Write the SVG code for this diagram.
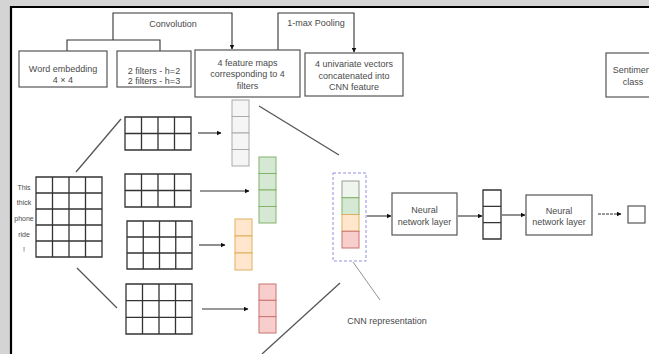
<svg xmlns="http://www.w3.org/2000/svg" width="649" height="354" viewBox="0 0 649 354">
<style>
text{font-family:"Liberation Sans",Arial,sans-serif;font-size:9px;fill:#4a4a4a;text-anchor:middle}
.small{font-size:7px}
.box{fill:#fff;stroke:#555;stroke-width:1.2}
.grid{fill:none;stroke:#333;stroke-width:1.3}
.conn{fill:none;stroke:#333;stroke-width:1.1}
.thin{fill:none;stroke:#777;stroke-width:0.8}
.diag{fill:none;stroke:#555;stroke-width:1.3}
.gray{fill:#f5f5f5;stroke:#aaa;stroke-width:1}
.green{fill:#d5e8d4;stroke:#82b366;stroke-width:1}
.orange{fill:#ffe6cc;stroke:#e0b060;stroke-width:1}
.red{fill:#f8cecc;stroke:#c87470;stroke-width:1}
</style>
<defs>
<marker id="ah" viewBox="0 0 10 10" refX="9" refY="5" markerWidth="5" markerHeight="5" orient="auto" markerUnits="userSpaceOnUse">
<path d="M0,0 L10,5 L0,10 z" fill="#111"/>
</marker>
</defs>
<rect x="0" y="0" width="649" height="354" fill="#d4d4d4"/>
<rect x="11" y="7" width="638" height="347" fill="#fff"/>
<path d="M11,354 V7 H649" fill="none" stroke="#000" stroke-width="2.2"/>

<g id="connectors">
<path class="conn" d="M67,51 V40 H160 V51 M113,40 V13 H232 V49" marker-end="url(#ah)"/>
<path class="conn" d="M278,50 V13 H354 V52" marker-end="url(#ah)"/>
<path class="diag" d="M76,172 L121,119"/>
<path class="diag" d="M77,268 L117,308"/>
<path class="conn" d="M198,133 H221" marker-end="url(#ah)"/>
<path class="conn" d="M200,191 H249" marker-end="url(#ah)"/>
<path class="conn" d="M199,245 H225" marker-end="url(#ah)"/>
<path class="conn" d="M202,309 H248" marker-end="url(#ah)"/>
<path class="diag" d="M259,106 L339,155"/>
<path class="diag" d="M340,283 L262,354"/>
<path class="thin" d="M353,262 L380,300"/>
<path class="conn" d="M367,216 H391" marker-end="url(#ah)"/>
<path class="conn" d="M458,216 H482" marker-end="url(#ah)"/>
<path class="conn" d="M502,215 H525" marker-end="url(#ah)"/>
<path class="conn" d="M598,214 H621" stroke-dasharray="3,1" marker-end="url(#ah)"/>
</g>

<g id="convolution-label"><text x="173" y="27">Convolution</text></g>
<g id="pooling-label"><text x="316" y="26">1-max Pooling</text></g>

<g id="word-embedding">
<rect class="box" x="19" y="51" width="88" height="36"/>
<text x="63" y="72">Word embedding</text>
<text x="63" y="83">4 × 4</text>
</g>
<g id="filters">
<rect class="box" x="117" y="51" width="74" height="36"/>
<text x="154" y="74">2 filters - h=2</text>
<text x="154" y="84">2 filters - h=3</text>
</g>
<g id="feature-maps">
<rect class="box" x="195" y="50" width="105" height="47"/>
<text x="247.5" y="65.5">4 feature maps</text>
<text x="247.5" y="77">corresponding to 4</text>
<text x="247.5" y="88.5">filters</text>
</g>
<g id="univariate">
<rect class="box" x="305" y="53" width="98" height="43"/>
<text x="354" y="67">4 univariate vectors</text>
<text x="354" y="78.5">concatenated into</text>
<text x="354" y="90">CNN feature</text>
</g>
<g id="sentiment">
<rect class="box" x="606" y="53" width="54" height="44"/>
<text x="633" y="73">Sentiment</text>
<text x="633" y="85">class</text>
</g>

<g id="sentence-matrix">
<text class="small" x="24" y="190">This</text>
<text class="small" x="24" y="205">thick</text>
<text class="small" x="24" y="221">phone</text>
<text class="small" x="24" y="236.5">ride</text>
<text class="small" x="24" y="251.5">!</text>
<path class="grid" d="M36,177 H102 V257 H36 Z M52.5,177 V257 M69,177 V257 M85.5,177 V257 M36,193 H102 M36,209 H102 M36,225 H102 M36,241 H102"/>
</g>

<g id="filter1"><path class="grid" d="M125,117 H191 V150 H125 Z M141.5,117 V150 M158,117 V150 M174.5,117 V150 M125,133.5 H191"/></g>
<g id="filter2"><path class="grid" d="M125,174 H191 V207 H125 Z M141.5,174 V207 M158,174 V207 M174.5,174 V207 M125,190.5 H191"/></g>
<g id="filter3"><path class="grid" d="M127,221 H192 V269 H127 Z M143.25,221 V269 M159.5,221 V269 M175.75,221 V269 M127,237 H192 M127,253 H192"/></g>
<g id="filter4"><path class="grid" d="M126,284 H192 V334 H126 Z M142.5,284 V334 M159,284 V334 M175.5,284 V334 M126,300.67 H192 M126,317.33 H192"/></g>

<g id="fmap1">
<rect class="gray" x="232" y="100" width="17" height="16.5"/>
<rect class="gray" x="232" y="116.5" width="17" height="16.5"/>
<rect class="gray" x="232" y="133" width="17" height="16.5"/>
<rect class="gray" x="232" y="149.5" width="17" height="16.5"/>
</g>
<g id="fmap2">
<rect class="green" x="259" y="157" width="17" height="16.5"/>
<rect class="green" x="259" y="173.5" width="17" height="16.5"/>
<rect class="green" x="259" y="190" width="17" height="16.5"/>
<rect class="green" x="259" y="206.5" width="17" height="16.5"/>
</g>
<g id="fmap3">
<rect class="orange" x="235" y="219" width="17" height="17"/>
<rect class="orange" x="235" y="236" width="17" height="17"/>
<rect class="orange" x="235" y="253" width="17" height="17"/>
</g>
<g id="fmap4">
<rect class="red" x="259" y="284" width="17" height="16.33"/>
<rect class="red" x="259" y="300.33" width="17" height="16.33"/>
<rect class="red" x="259" y="316.67" width="17" height="16.33"/>
</g>

<g id="cnn-representation">
<rect x="333" y="173" width="33" height="88" fill="none" stroke="#8f8fe0" stroke-width="1" stroke-dasharray="3,2"/>
<rect x="342" y="181" width="17" height="16.75" fill="#eef5ec" stroke="#9a9a9a" stroke-width="1"/>
<rect class="green" x="342" y="197.75" width="17" height="16.75"/>
<rect class="orange" x="342" y="214.5" width="17" height="16.75"/>
<rect class="red" x="342" y="231.25" width="17" height="16.75"/>
</g>
<g id="cnn-label"><text x="387" y="324">CNN representation</text></g>

<g id="nn-layer1">
<rect class="box" x="392" y="193" width="65" height="42"/>
<text x="424.5" y="213">Neural</text>
<text x="424.5" y="225">network layer</text>
</g>
<g id="hidden-vector">
<path class="grid" d="M483,190 H501 V239 H483 Z M483,206.33 H501 M483,222.67 H501" stroke="#444"/>
</g>
<g id="nn-layer2">
<rect class="box" x="526" y="195" width="66" height="40"/>
<text x="559" y="214">Neural</text>
<text x="559" y="225">network layer</text>
</g>
<g id="output">
<rect class="box" x="628" y="206" width="17" height="17"/>
</g>
</svg>
